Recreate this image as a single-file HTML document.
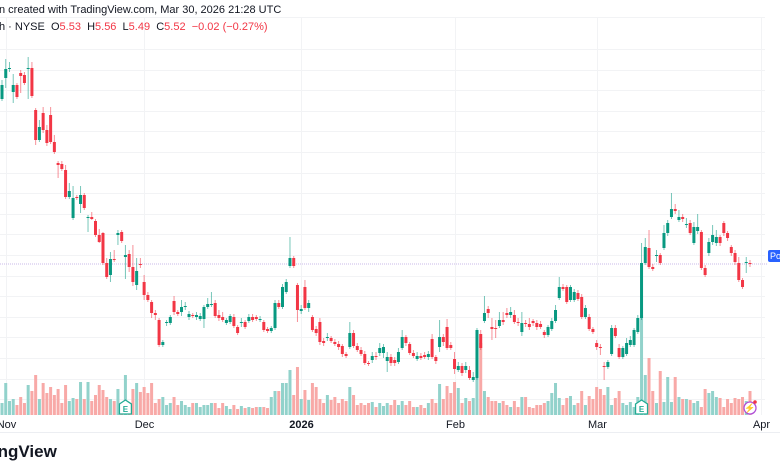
<!DOCTYPE html>
<html><head><meta charset="utf-8"><style>
html,body{margin:0;padding:0;background:#fff;width:780px;height:470px;overflow:hidden;font-family:"Liberation Sans",sans-serif;}
#wrap{position:relative;width:780px;height:470px;overflow:hidden;}
.t{position:absolute;white-space:nowrap;font-size:11px;color:#131722;}
.r{color:#f23645}
svg{position:absolute;left:0;top:0}
</style></head><body><div id="wrap">
<svg id="chart" width="780" height="470"></svg>
<div class="t" style="left:-1px;top:4px">n created with TradingView.com, Mar 30, 2026 21:28 UTC</div>
<div class="t" style="left:-1px;top:21px">h · NYSE &nbsp;O<span class="r">5.53</span> &nbsp;H<span class="r">5.56</span> &nbsp;L<span class="r">5.49</span> &nbsp;C<span class="r">5.52</span> &nbsp;<span class="r">−0.02 (−0.27%)</span></div>
<div class="t" style="left:-43px;top:442px;font-size:17px;font-weight:bold">TradingView</div>
<div style="position:absolute;left:768px;top:250px;width:12px;height:12px;background:#2962ff;border-radius:2px 0 0 2px;color:#fff;font-size:9px;line-height:12px;padding-left:2px;overflow:hidden;box-sizing:border-box">Po</div>
</div>
<script>
const opens=[7.17,7.38,7.47,7.24,7.31,7.43,7.41,7.47,7.48,7.06,6.76,7.03,6.86,7.01,6.74,6.53,6.52,6.46,6.19,5.98,6.19,6.12,6.21,5.98,5.99,5.95,5.81,5.83,5.53,5.41,5.57,5.81,5.84,5.59,5.62,5.49,5.31,5.52,5.34,5.21,5.14,5.03,4.96,4.71,4.93,4.93,5.15,5.04,5.04,5.09,4.99,5.01,4.99,4.97,4.97,5.09,5.11,5.13,5.01,4.99,4.93,4.94,4.99,4.89,4.93,4.94,4.95,4.99,4.99,4.96,4.94,4.87,4.85,4.88,5.13,5.09,5.24,5.50,5.58,5.31,5.05,5.29,5.08,4.99,4.87,4.94,4.75,4.78,4.78,4.74,4.72,4.70,4.62,4.69,4.83,4.70,4.66,4.62,4.53,4.56,4.60,4.63,4.63,4.55,4.59,4.56,4.54,4.68,4.79,4.72,4.63,4.57,4.60,4.61,4.59,4.77,4.59,4.69,4.79,4.89,4.71,4.57,4.46,4.50,4.46,4.46,4.36,4.38,4.82,4.95,5.07,4.89,4.88,4.90,4.96,5.03,5.01,5.01,4.94,4.84,4.93,4.92,4.95,4.93,4.92,4.84,4.81,4.87,4.95,5.18,5.29,5.29,5.16,5.16,5.23,5.19,4.99,4.99,4.87,4.73,4.69,4.50,4.49,4.62,4.88,4.68,4.59,4.62,4.71,4.71,4.84,4.98,5.53,5.68,5.49,5.60,5.61,5.68,5.83,5.99,6.07,5.96,5.99,5.91,5.93,5.73,5.85,5.84,5.48,5.63,5.74,5.73,5.79,5.93,5.83,5.69,5.63,5.53,5.36,5.53,5.53];
const highs=[7.36,7.57,7.54,7.42,7.33,7.46,7.44,7.59,7.54,7.08,6.96,7.09,6.91,7.09,6.81,6.55,6.55,6.51,6.33,6.30,6.21,6.30,6.23,6.01,6.04,5.97,5.87,5.84,5.58,5.64,5.66,5.86,5.86,5.71,5.66,5.71,5.58,5.58,5.41,5.24,5.16,5.06,4.98,4.76,4.96,5.01,5.20,5.06,5.16,5.14,5.05,5.03,5.04,5.03,5.11,5.18,5.24,5.16,5.06,5.04,4.98,5.02,5.02,4.91,4.98,4.96,5.02,5.02,5.01,5.00,4.96,4.89,4.90,5.16,5.16,5.32,5.37,5.79,5.60,5.33,5.11,5.36,5.16,5.01,4.90,4.98,4.78,4.83,4.80,4.77,4.75,4.72,4.64,4.94,4.86,4.73,4.69,4.65,4.55,4.64,4.64,4.73,4.72,4.64,4.62,4.59,4.68,4.86,4.81,4.74,4.66,4.64,4.63,4.64,4.65,4.82,4.61,4.96,4.82,4.97,4.74,4.64,4.54,4.53,4.54,4.50,4.44,4.88,4.86,5.20,5.10,4.98,4.96,5.04,5.04,5.08,5.09,5.06,4.98,5.04,4.96,4.98,4.97,4.96,4.95,4.86,4.91,4.98,5.11,5.39,5.32,5.31,5.31,5.27,5.26,5.22,5.11,5.02,4.89,4.76,4.72,4.54,4.56,4.91,4.91,4.72,4.70,4.78,4.80,4.88,5.01,5.73,5.78,5.86,5.52,5.66,5.63,5.91,5.96,6.23,6.12,6.06,6.02,5.98,5.96,5.94,6.02,5.86,5.51,5.78,5.91,5.86,5.81,5.95,5.85,5.71,5.66,5.59,5.38,5.59,5.56];
const lows=[7.15,7.28,7.44,7.13,7.17,7.23,7.31,7.17,7.18,6.71,6.74,6.83,6.70,6.72,6.62,6.38,6.45,6.17,6.17,5.96,6.16,6.03,6.06,5.84,5.96,5.79,5.73,5.51,5.37,5.34,5.54,5.71,5.73,5.37,5.44,5.30,5.26,5.48,5.16,5.14,4.98,4.96,4.69,4.69,4.90,4.91,5.01,5.00,5.00,5.06,4.96,4.98,4.96,4.95,4.88,5.07,5.09,4.98,4.95,4.94,4.91,4.92,4.88,4.81,4.89,4.87,4.93,4.94,4.95,4.94,4.84,4.83,4.83,4.86,5.07,5.07,5.22,5.48,5.48,4.94,5.02,5.06,5.04,4.84,4.80,4.71,4.70,4.75,4.73,4.70,4.66,4.59,4.58,4.67,4.68,4.64,4.60,4.51,4.50,4.53,4.56,4.60,4.58,4.44,4.50,4.50,4.52,4.66,4.70,4.61,4.58,4.55,4.56,4.57,4.56,4.57,4.52,4.64,4.70,4.66,4.66,4.42,4.44,4.40,4.43,4.36,4.34,4.36,4.66,4.93,4.98,4.76,4.78,4.88,4.91,4.98,4.98,4.92,4.90,4.80,4.89,4.86,4.90,4.86,4.87,4.78,4.79,4.85,4.93,5.16,5.25,5.12,5.14,5.14,5.15,4.97,4.97,4.85,4.82,4.66,4.61,4.36,4.47,4.60,4.78,4.57,4.57,4.60,4.69,4.69,4.82,4.96,5.51,5.47,5.45,5.54,5.51,5.66,5.80,5.97,6.02,5.94,5.94,5.88,5.81,5.71,5.82,5.46,5.39,5.60,5.71,5.70,5.70,5.80,5.75,5.60,5.51,5.34,5.27,5.43,5.49];
const closes=[7.31,7.47,7.48,7.31,7.19,7.40,7.33,7.48,7.20,6.76,6.89,6.86,6.73,6.74,6.64,6.51,6.47,6.19,6.25,6.18,6.18,6.21,6.08,5.99,5.97,5.81,5.74,5.53,5.39,5.57,5.56,5.83,5.75,5.61,5.49,5.34,5.45,5.51,5.21,5.16,5.03,5.01,4.71,4.74,4.94,4.99,5.04,5.02,5.09,5.10,5.02,5.00,5.01,5.00,5.09,5.12,5.12,5.00,4.98,4.96,4.96,5.00,4.90,4.83,4.94,4.89,4.99,4.96,4.97,4.97,4.86,4.85,4.88,5.13,5.09,5.29,5.34,5.58,5.50,5.06,5.07,5.08,5.13,4.86,4.83,4.74,4.73,4.79,4.75,4.72,4.69,4.62,4.60,4.83,4.70,4.66,4.62,4.53,4.52,4.60,4.59,4.68,4.69,4.59,4.53,4.53,4.64,4.79,4.73,4.63,4.60,4.60,4.58,4.59,4.62,4.59,4.55,4.79,4.74,4.68,4.68,4.47,4.50,4.43,4.50,4.38,4.39,4.86,4.68,5.03,5.03,4.87,4.87,4.96,4.94,5.01,5.04,4.94,4.93,4.93,4.92,4.89,4.93,4.89,4.89,4.81,4.89,4.95,5.06,5.29,5.27,5.14,5.29,5.24,5.17,4.99,5.08,4.87,4.84,4.69,4.68,4.49,4.54,4.88,4.80,4.59,4.68,4.73,4.76,4.86,4.98,5.53,5.69,5.49,5.47,5.61,5.53,5.83,5.93,6.07,6.05,5.99,5.97,5.92,5.83,5.89,5.89,5.48,5.41,5.74,5.81,5.79,5.73,5.83,5.78,5.63,5.54,5.36,5.29,5.54,5.52];
const volumes=[1.2,3.2,1.4,1.6,1.0,1.8,1.2,3.0,2.4,4.0,1.6,3.2,2.2,2.8,2.0,2.6,1.2,3.0,1.4,1.7,1.6,3.3,1.6,3.3,1.4,2.0,3.0,2.5,1.8,1.6,1.4,2.6,1.2,4.0,1.2,2.6,3.2,2.3,2.8,2.2,3.2,1.2,1.6,1.8,1.0,1.2,1.8,1.0,1.4,1.0,0.8,1.2,1.2,0.8,1.0,1.0,1.2,1.2,0.7,1.2,0.9,0.6,1.0,0.6,0.9,0.7,0.8,0.7,0.8,0.8,0.8,0.7,1.8,2.4,2.4,3.2,3.2,4.5,2.0,4.8,1.6,2.5,1.5,3.2,2.8,1.6,1.2,2.0,1.5,1.8,1.2,1.6,1.4,2.8,2.0,1.0,1.2,1.0,1.2,1.3,0.8,1.2,0.9,1.2,1.0,1.5,1.0,1.4,1.0,1.4,0.8,0.8,1.0,0.7,1.2,1.6,1.2,3.1,1.6,2.9,2.2,3.3,2.7,1.2,1.7,1.4,1.7,8.5,7.2,2.4,1.8,1.4,1.4,1.2,1.4,1.0,0.8,1.4,0.8,1.8,1.8,0.8,0.7,1.0,1.0,1.2,1.4,2.2,3.2,1.7,1.0,1.7,1.9,1.0,1.2,2.4,1.0,1.9,1.6,2.8,2.6,2.0,2.8,1.0,1.7,2.4,1.2,1.0,1.3,0.8,1.8,10.0,4.0,5.7,2.4,1.2,4.4,1.3,3.8,1.3,3.8,1.8,1.6,1.6,1.5,1.2,1.4,0.8,2.6,2.2,2.4,1.8,1.7,0.8,1.6,1.2,1.7,1.6,1.8,1.4,2.4];
const monthLabels=["Nov","Dec","2026","Feb","Mar","Apr"];
const monthIdx=[1,38,80,121,159,203];

const svg=document.getElementById('chart');
const NS='http://www.w3.org/2000/svg';
const xOf=i=>2+i*3.74;
const yOf=p=>816-p*100;
const vH=v=>v*10;
const VBASE=415;
function mk(tag,attrs){const e=document.createElementNS(NS,tag);for(const k in attrs)e.setAttribute(k,attrs[k]);svg.appendChild(e);return e;}
for(let k=0;k<19;k++){const y=Math.round(17+ (k===0?0:32+(k-1)*20.6))+0.5;
 const g=mk('line',{x1:0,x2:765,y1:y,y2:y,stroke:'#f2f3f5','stroke-width':1});
 
 }
monthIdx.forEach((mi,j)=>{const x=Math.round(xOf(mi))+0.5;
 const g=mk('line',{x1:x,x2:x,y1:17,y2:415,stroke:'#f2f3f5','stroke-width':1});
 
 
 const t=mk('text',{x:x,y:428,'text-anchor':'middle','font-size':11,fill:'#131722','font-family':'Liberation Sans, sans-serif','font-weight':monthLabels[j]==='2026'?'bold':'normal'});
 t.textContent=monthLabels[j];
 
 });
const ax=mk('line',{x1:0,x2:780,y1:432.5,y2:432.5,stroke:'#eceef2'});


volumes.forEach((v,i)=>{const up=closes[i]>=opens[i];
 const r=mk('rect',{x:xOf(i)-1.5,y:VBASE-vH(v),width:3,height:vH(v),fill:up?'#92d2cb':'#f8a9a7'});
 
 });
const lp=yOf(closes[closes.length-1]);
const pl=mk('line',{x1:0,x2:768,y1:lp,y2:lp,stroke:'#c9b8e8','stroke-width':1,'stroke-dasharray':'1 1'});


closes.forEach((c,i)=>{const o=opens[i],up=c>=o,col=up?'#089981':'#f23645',x=xOf(i);
 const w=mk('line',{x1:x,x2:x,y1:yOf(highs[i]),y2:yOf(lows[i]),stroke:col,'stroke-width':1,opacity:0.55});
 
 
 const top=yOf(Math.max(o,c)),h=Math.max(1,Math.abs(o-c)*100);
 const b=mk('rect',{x:x-1.5,y:top,width:3,height:h,fill:col});
 
 });
[33,171].forEach(i=>{const x=xOf(i);
 const g=mk('path',{d:`M${x-6} ${404} L${x} ${400} L${x+6} ${404} L${x+6} ${414} L${x-6} ${414} Z`,fill:'#fff',stroke:'#22ab94','stroke-width':1.3});
 
 
 const t=mk('text',{x:x,y:412,'text-anchor':'middle','font-size':8,'font-weight':'bold',fill:'#22ab94','font-family':'Liberation Sans, sans-serif'});
 t.textContent='E';
 
 });
const lc=mk('circle',{cx:750,cy:408,r:6,fill:'#fff',stroke:'#b04fd6','stroke-width':1.3});


const lt=mk('text',{x:750,y:411,'text-anchor':'middle','font-size':9,fill:'#b04fd6'});
lt.textContent='⚡';


const ld=mk('circle',{cx:755,cy:402,r:1.8,fill:'#f23645'});


</script></body></html>
